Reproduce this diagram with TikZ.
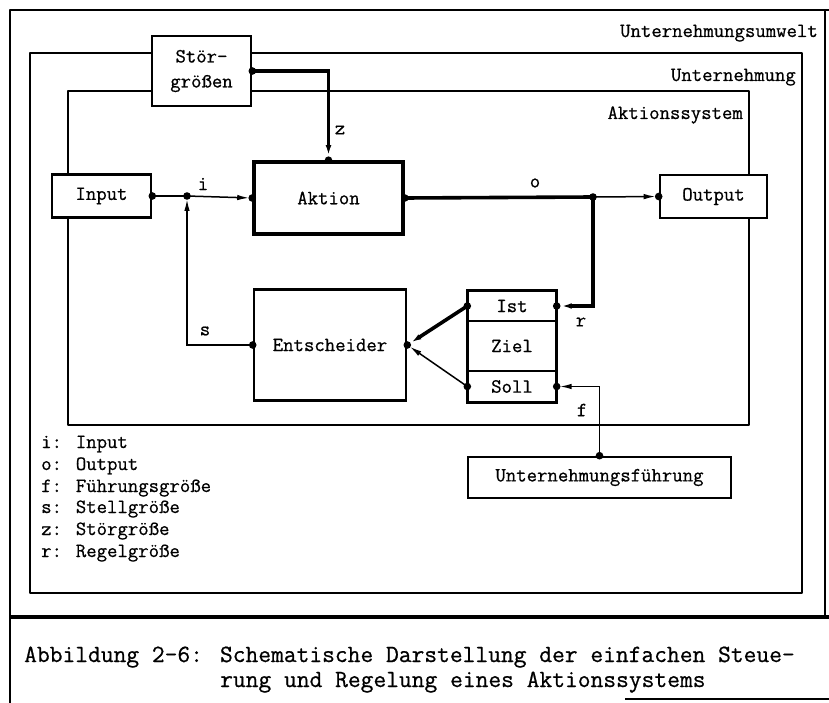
\documentclass[tikz,border=0pt]{standalone}
\usepackage{fontspec}
\newfontfamily\typewriter[FakeBold=0.7]{Latin Modern Mono}
\usetikzlibrary{arrows.meta,calc}
\tikzset{
  txt/.style={font=\typewriter\fontsize{20.2}{24}\selectfont},
  box/.style={txt, draw, line width=2.6pt, fill=white, inner sep=0pt, align=center},
  cell/.style={txt, draw, line width=1.4pt, fill=white, inner sep=0pt, minimum width=88pt},
  frame/.style={line width=2.9pt, line cap=round, line join=round},
  sig/.style={line width=1.5pt},
  heavy/.style={line width=3.6pt},
  arrowed/.style={-{Latex[length=12pt,width=5.5pt]}, shorten >=3pt},
  lab/.style={txt, inner sep=0pt},
  legend/.style={txt, inner sep=0pt, anchor=base west},
  capt/.style={font=\typewriter\fontsize{24.8}{30}\selectfont, inner sep=0pt, anchor=base west},
}
\begin{document}
\begin{tikzpicture}[x=1pt,y=-1pt]
\useasboundingbox (0,0) rectangle (829,703);

% page frame with caption field
\draw[frame] (10,703) -- (10,10) -- (829,10);
\draw[line width=1.6pt] (825,10) -- (825,617);
\draw[line width=3.2pt] (10,617) -- (829,617);
\draw[line width=1.6pt] (625,699) -- (829,699);

% nested system boundaries
\draw[frame] (30,53) rectangle (802,593);
\draw[frame] (68,91) rectangle (749,425);

\node[lab, anchor=base east] (lumwelt) at (818,37) {Unternehmungsumwelt};
\node[lab, anchor=base east] (lunt) at (796,81) {Unternehmung};
\node[lab, anchor=base east] (laks) at (743,119) {Aktionssystem};

% blocks
\node[box, minimum width=99pt, minimum height=70pt] (stoer) at (201.5,71) {Stör-\\[1pt]größen};
\node[box, minimum width=99pt, minimum height=43pt] (input) at (101.5,196) {Input};
\node[box, line width=3.6pt, minimum width=149pt, minimum height=72pt] (aktion) at (328.5,198) {Aktion};
\node[box, minimum width=107pt, minimum height=43pt] (output) at (713.5,196.5) {Output};
\node[box, minimum width=152pt, minimum height=111pt] (entsch) at (330,345) {Entscheider};
\node[cell, minimum height=30pt] (ist) at (512,306) {Ist};
\node[cell, minimum height=50pt] (ziel) at (512,346) {Ziel};
\node[cell, minimum height=31pt] (soll) at (512,386.5) {Soll};
\draw[line width=2.6pt] (ist.north west) rectangle (soll.south east);
\node[box, minimum width=263pt, minimum height=41pt] (fuehr) at (599.5,477.5) {Unternehmungsführung};

% junctions
\coordinate (ji) at (187,196);
\coordinate (jo) at (593,197);

% signal paths
\draw[heavy, arrowed] (stoer.east) -| (aktion.north);
\draw[sig] (input.east) -- (ji);
\draw[sig, arrowed] (ji) -- (aktion.west);
\draw[heavy] (aktion.east) -- (jo);
\draw[sig, arrowed] (jo) -- (output.west);
\draw[heavy, arrowed] (jo) |- (ist.east);
\draw[heavy, arrowed] (ist.west) -- (entsch.east);
\draw[sig, arrowed] (soll.west) -- (entsch.east);
\draw[sig, arrowed] (entsch.west) -| (ji);
\draw[sig, arrowed] (fuehr.north) |- (soll.east);

% connection points
\foreach \p in {stoer.east, aktion.north, input.east, ji, aktion.west, aktion.east,
                jo, output.west, ist.east, ist.west, soll.west, soll.east,
                entsch.east, entsch.west, fuehr.north}
  \fill (\p) circle (3.8pt);

% signal labels
\node[lab] (lz) at (340,130) {z};
\node[lab] (li) at (203,184) {i};
\node[lab] (lo) at (535,183) {o};
\node[lab] (lr) at (581,322) {r};
\node[lab] (ls) at (205,331) {s};
\node[lab] (lf) at (582,410) {f};

% legend
\node[legend] (k1) at (41,448) {i: Input};
\node[legend] (k2) at (41,470) {o: Output};
\node[legend] (k3) at (41,492) {f: Führungsgröße};
\node[legend] (k4) at (41,513) {s: Stellgröße};
\node[legend] (k5) at (41,535) {z: Störgröße};
\node[legend] (k6) at (41,557) {r: Regelgröße};

% caption
\node[capt] (c1) at (24,662) {Abbildung 2-6: Schematische Darstellung der einfachen Steue-};
\node[capt] (c2) at (220,687) {rung und Regelung eines Aktionssystems};
\end{tikzpicture}
\end{document}
